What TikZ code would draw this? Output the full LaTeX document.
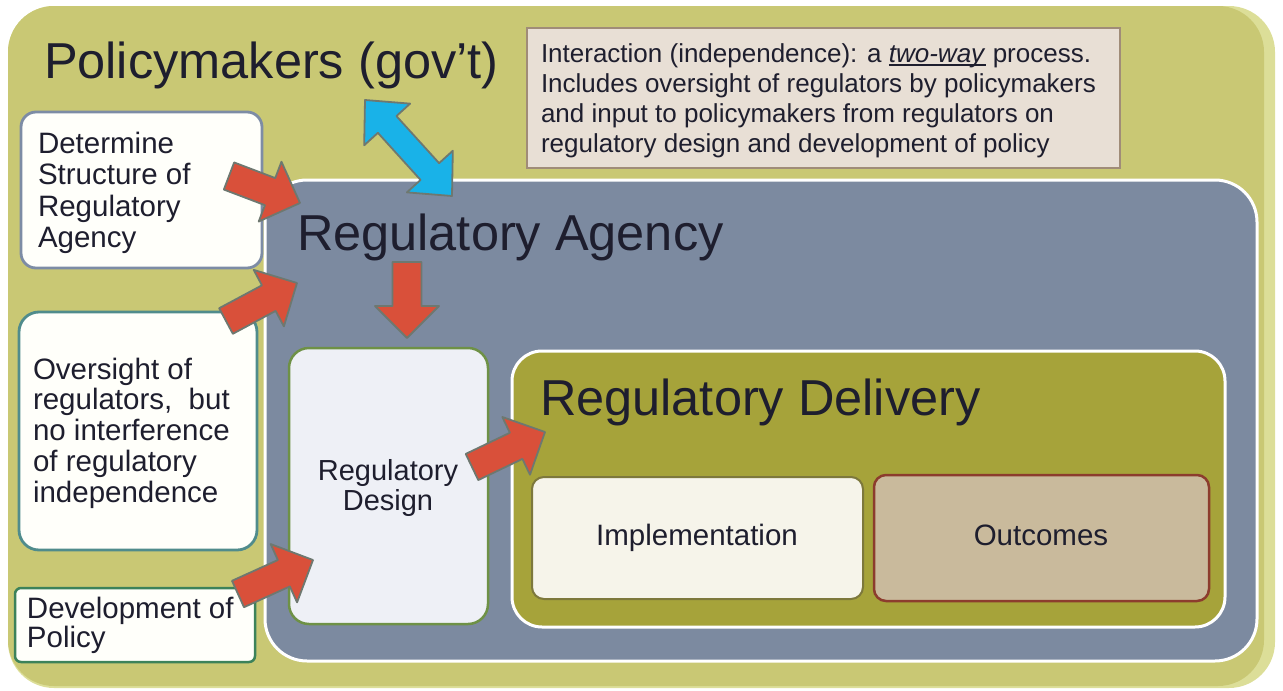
\documentclass[tikz,border=0pt]{standalone}
\usepackage{fontspec}
\setmainfont{Liberation Sans}
\usetikzlibrary{calc}

\definecolor{frameolive}{RGB}{201,200,116}
\definecolor{framelight}{RGB}{220,222,152}
\definecolor{slate}{RGB}{124,138,160}
\definecolor{deliveryolive}{RGB}{166,163,58}
\definecolor{notefill}{RGB}{232,223,213}
\definecolor{notedraw}{RGB}{160,140,120}
\definecolor{detdraw}{RGB}{125,140,165}
\definecolor{ovdraw}{RGB}{80,140,140}
\definecolor{devdraw}{RGB}{60,130,90}
\definecolor{designfill}{RGB}{238,240,246}
\definecolor{designdraw}{RGB}{110,145,70}
\definecolor{implfill}{RGB}{246,244,234}
\definecolor{impldraw}{RGB}{125,120,60}
\definecolor{outfill}{RGB}{201,186,156}
\definecolor{outdraw}{RGB}{140,60,45}
\definecolor{arrowred}{RGB}{217,80,58}
\definecolor{arrowblue}{RGB}{25,178,232}
\definecolor{arrowedge}{RGB}{110,120,112}
\definecolor{ink}{RGB}{30,30,46}

\newcommand\fsz[2]{\fontsize{#1}{#2}\selectfont}
% stacked lines whose reference point is the first baseline
\newcommand\stackL[1]{\vtop{\halign{##\hfil\cr#1\crcr}}}
\newcommand\stackC[1]{\vtop{\halign{\hfil##\hfil\cr#1\crcr}}}
% underlined word with a rule scaled to the text size
\newcommand\ulword[1]{\setbox0\hbox{#1}\rlap{\rule[-0.14em]{\wd0}{0.07em}}\box0\relax}

% block arrow from tail coordinate #2 to tip coordinate #3
\newcommand\blockarrow[3][]{%
  \coordinate (#2-base) at ($(#3)!32pt!(#2)$);
  \draw[redarrow,#1]
    ($(#2)!14.5pt!90:(#3)$) -- ($(#2-base)!14.5pt!90:(#3)$) --
    ($(#2-base)!32pt!90:(#3)$) -- (#3) --
    ($(#2-base)!32pt!-90:(#3)$) -- ($(#2-base)!14.5pt!-90:(#3)$) --
    ($(#2)!14.5pt!-90:(#3)$) -- cycle;
}
% two-headed block arrow between tips #1 and #2
\newcommand\twowayarrow[2]{%
  \coordinate (#1-base) at ($(#1)!33pt!(#2)$);
  \coordinate (#2-base) at ($(#2)!33pt!(#1)$);
  \draw[bluearrow]
    (#1) -- ($(#1-base)!31pt!90:(#2)$) -- ($(#1-base)!12.5pt!90:(#2)$) --
    ($(#2-base)!12.5pt!-90:(#1)$) -- ($(#2-base)!31pt!-90:(#1)$) -- (#2) --
    ($(#2-base)!31pt!90:(#1)$) -- ($(#2-base)!12.5pt!90:(#1)$) --
    ($(#1-base)!12.5pt!-90:(#2)$) -- ($(#1-base)!31pt!-90:(#2)$) -- cycle;
}

\tikzset{
  panel/.style={anchor=north west, inner sep=0pt, outer sep=0pt},
  redarrow/.style={fill=arrowred, draw=arrowedge, line width=1.8pt, line join=round},
  bluearrow/.style={fill=arrowblue, draw=arrowedge, line width=1.8pt, line join=round},
  txt/.style={inner sep=0pt, outer sep=0pt, text=ink},
}

\begin{document}
\begin{tikzpicture}[x=1pt,y=-1pt]
\useasboundingbox (0,0) rectangle (1283,691);

% outer frame: policymakers, with a lighter rim on the right
\node[panel, fill=framelight, rounded corners=46pt,
      minimum width=1267pt, minimum height=682pt] (policyedge) at (8,6) {};
\node[panel, fill=frameolive, rounded corners=46pt,
      minimum width=1256pt, minimum height=680pt] (policy) at (8,6) {};

% note box
\node[panel, fill=notefill, draw=notedraw, line width=1.2pt,
      minimum width=593pt, minimum height=140pt] (note) at (527,28) {};

% regulatory agency
\node[panel, fill=slate, draw=white, line width=3pt, rounded corners=42pt,
      minimum width=992pt, minimum height=481pt] (agency) at (265,180) {};

% left-hand boxes
\node[panel, fill=white!98!yellow, draw=detdraw, line width=2.8pt, rounded corners=15pt,
      minimum width=241pt, minimum height=156pt] (structure) at (21,112) {};
\node[panel, fill=white!98!yellow, draw=ovdraw, line width=2.8pt, rounded corners=20pt,
      minimum width=238pt, minimum height=238pt] (oversight) at (19,312) {};
\node[panel, fill=white!98!yellow, draw=devdraw, line width=2.5pt, rounded corners=6pt,
      minimum width=240pt, minimum height=74pt] (devpolicy) at (15,588) {};

% regulatory design
\node[panel, fill=designfill, draw=designdraw, line width=2.5pt, rounded corners=20pt,
      minimum width=199pt, minimum height=276pt] (design) at (289,348) {};

% regulatory delivery and its parts
\node[panel, fill=deliveryolive, draw=white, line width=3pt, rounded corners=30pt,
      minimum width=713pt, minimum height=276pt] (delivery) at (512,351) {};
\node[panel, fill=implfill, draw=impldraw, line width=2pt, rounded corners=12pt,
      minimum width=331pt, minimum height=122pt] (impl) at (532,477) {};
\node[panel, fill=outfill, draw=outdraw, line width=2.5pt, rounded corners=12pt,
      minimum width=335pt, minimum height=126pt] (outcomes) at (874,475) {};

% titles and labels
\node[txt, anchor=base west, font=\fsz{50.5}{56}] (policytitle) at (44,78) {Policymakers (gov’t)};
\node[txt, anchor=base west, font=\fsz{26}{30}] (notetext) at (541,62)
  {\stackL{Interaction (independence): a \ulword{\textit{two-way}} process.\cr
           Includes oversight of regulators by policymakers\cr
           and input to policymakers from regulators on\cr
           regulatory design and development of policy}};
\node[txt, anchor=base west, font=\fsz{50.5}{56}] (agencytitle) at (297,250) {Regulatory Agency};
\node[txt, anchor=base west, font=\fsz{50.5}{56}] (deliverytitle) at (540,415) {Regulatory Delivery};

\node[txt, anchor=base west, font=\fsz{29.5}{31.5}] (structuretext) at (38,153)
  {\stackL{Determine\cr Structure of\cr Regulatory\cr Agency}};
\node[txt, anchor=base west, font=\fsz{29.5}{30.8}] (oversighttext) at (33,379)
  {\stackL{Oversight of\cr regulators,\ \ but\cr no interference\cr of regulatory\cr independence}};
\node[txt, anchor=base west, font=\fsz{29.5}{29.5}] (devtext) at (27,618)
  {\stackL{Development of\cr Policy}};
\node[txt, anchor=base, font=\fsz{29}{30.5}] (designtext) at (388,480)
  {\stackC{Regulatory\cr Design}};
\node[txt, anchor=base, font=\fsz{29.5}{32}] (impltext) at (697,545) {Implementation};
\node[txt, anchor=base, font=\fsz{29.5}{32}] (outtext) at (1041,545) {Outcomes};

% arrows
\coordinate (s1) at (229,176);   \coordinate (e1) at (300,203);
\coordinate (s2) at (226,321);   \coordinate (e2) at (297,283);
\coordinate (s3) at (407,262);   \coordinate (e3) at (407,338);
\coordinate (s4) at (472,467);   \coordinate (e4) at (545,432);
\coordinate (s5) at (238,594);   \coordinate (e5) at (313,560);
\blockarrow{s1}{e1}
\blockarrow{s2}{e2}
\blockarrow{s3}{e3}
\blockarrow{s4}{e4}
\blockarrow{s5}{e5}

\coordinate (gov) at (365,100);
\coordinate (reg) at (452,196);
\twowayarrow{gov}{reg}
\end{tikzpicture}
\end{document}
